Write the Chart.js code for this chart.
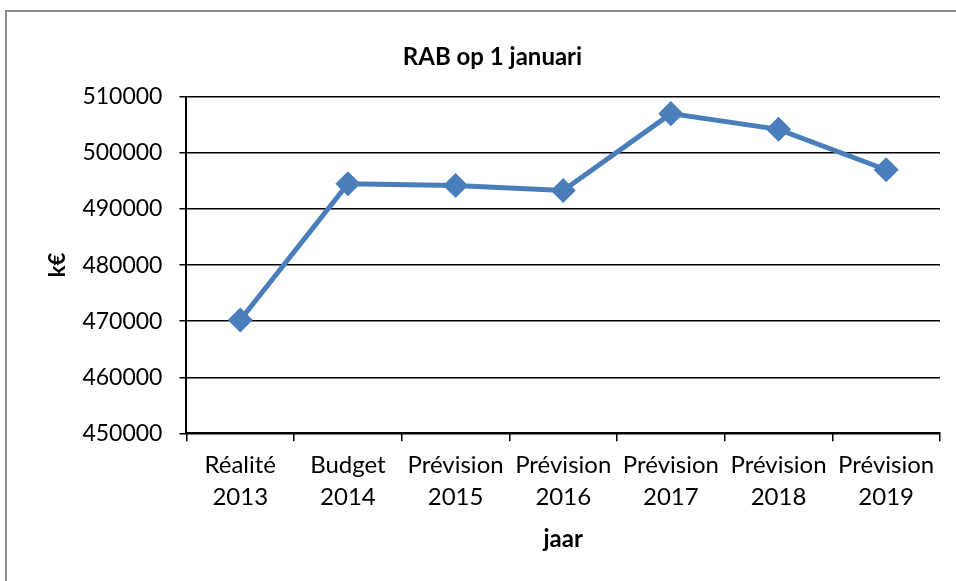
<!DOCTYPE html>
<html>
<head>
<meta charset="utf-8">
<script src="https://cdn.jsdelivr.net/npm/chart.js@4/dist/chart.umd.min.js"></script>
<style>
  html, body { margin: 0; padding: 0; background: #fff; }
  #frame { position: absolute; left: 5px; top: 10px; width: 960px; height: 580px; border: 2px solid #8c8c8c; box-sizing: border-box; }
  #wrap { position: absolute; left: 0; top: 0; width: 956px; height: 581px; }
</style>
</head>
<body>
<div id="frame"></div>
<div id="wrap"><canvas id="rab"></canvas></div>
<script>
const categories = [
  ['Réalité', '2013'],
  ['Budget', '2014'],
  ['Prévision', '2015'],
  ['Prévision', '2016'],
  ['Prévision', '2017'],
  ['Prévision', '2018'],
  ['Prévision', '2019']
];
const rabValues = [470200, 494500, 494200, 493300, 507000, 504200, 497000];
const yTicks = { min: 450000, max: 510000, step: 10000 };

const FONT = 'Lato, "Open Sans", sans-serif';

new Chart(document.querySelector('#rab'), {
  type: 'line',
  data: {
    labels: categories,
    datasets: [{
      label: 'RAB',
      data: rabValues,
      borderColor: '#4a7ebb',
      backgroundColor: '#4a7ebb',
      borderWidth: 5,
      pointStyle: 'rectRot',
      pointRadius: 9,
      pointHoverRadius: 9,
      tension: 0
    }]
  },
  options: {
    responsive: true,
    maintainAspectRatio: false,
    animation: false,
    layout: { padding: { left: 45, right: 16, top: 0, bottom: 27 } },
    scales: {
      x: {
        offset: true,
        grid: { offset: true, drawOnChartArea: false, drawTicks: true, tickLength: 8, color: '#000', lineWidth: 1.5 },
        border: { color: '#000', width: 2 },
        ticks: { color: '#000', font: { family: FONT, size: 24, lineHeight: 1.33 }, padding: 8, maxRotation: 0, autoSkip: false },
        // for a bottom axis the title's bottom padding is the outer side
        title: { display: true, text: 'jaar', color: '#000', font: { family: FONT, size: 24, weight: 'bold' }, padding: { top: 4, bottom: 0 } }
      },
      y: {
        min: yTicks.min,
        max: yTicks.max,
        ticks: {
          stepSize: yTicks.step,
          color: '#000',
          font: { family: FONT, size: 23 },
          padding: 17,
          callback: v => String(v)
        },
        grid: { color: '#000', lineWidth: 1.5, tickLength: 7 },
        border: { color: '#000', width: 2 },
        title: { display: true, text: 'k€', color: '#000', font: { family: FONT, size: 22, weight: 'bold' }, padding: { top: 0, bottom: -6 } }
      }
    },
    plugins: {
      legend: { display: false },
      tooltip: { enabled: false },
      title: {
        display: true,
        text: 'RAB op 1 januari',
        color: '#000',
        font: { family: FONT, size: 24, weight: 'bold' },
        padding: { top: 43, bottom: 25 }
      }
    }
  }
});
</script>
</body>
</html>
